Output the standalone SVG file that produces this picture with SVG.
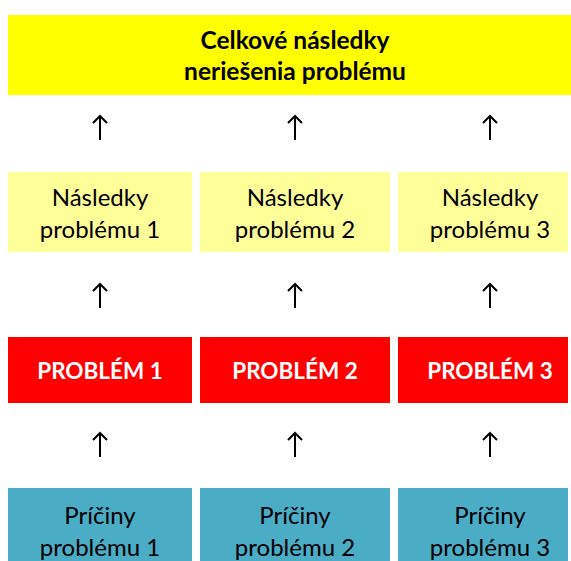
<svg xmlns="http://www.w3.org/2000/svg" width="571" height="561" viewBox="0 0 571 561">
<style>
.t{font-family:Lato,"Liberation Sans",sans-serif;font-size:24px;text-anchor:middle;fill:#000}
.b{font-weight:bold;font-size:24.5px}
.w{fill:#fff;font-size:22.5px}
.arr{fill:none;stroke:#000;stroke-width:2}
</style>
<rect width="571" height="561" fill="#fff"/>
<g id="celkove">
<rect x="8" y="15" width="563" height="80" fill="#ffff00"/>
<text class="t b" x="295" y="49">Celkové následky</text>
<text class="t b" x="295" y="80">neriešenia problému</text>
</g>
<g id="nasledky1">
<rect x="8" y="172" width="184" height="80" fill="#ffff99"/>
<text class="t" x="100" y="206">Následky</text>
<text class="t" x="100" y="238">problému 1</text>
</g>
<g id="nasledky2">
<rect x="200" y="172" width="190" height="80" fill="#ffff99"/>
<text class="t" x="295" y="206">Následky</text>
<text class="t" x="295" y="238">problému 2</text>
</g>
<g id="nasledky3">
<rect x="398" y="172" width="170" height="80" fill="#ffff99"/>
<text class="t" x="490" y="206">Následky</text>
<text class="t" x="490" y="238">problému 3</text>
</g>
<g id="problem1">
<rect x="8" y="337" width="184" height="66" fill="#ff0000"/>
<text class="t b w" x="100" y="379">PROBLÉM 1</text>
</g>
<g id="problem2">
<rect x="200" y="337" width="190" height="66" fill="#ff0000"/>
<text class="t b w" x="295" y="379">PROBLÉM 2</text>
</g>
<g id="problem3">
<rect x="398" y="337" width="170" height="66" fill="#ff0000"/>
<text class="t b w" x="490" y="379">PROBLÉM 3</text>
</g>
<g id="priciny1">
<rect x="8" y="488" width="184" height="73" fill="#4bacc6"/>
<text class="t" x="100" y="524">Príčiny</text>
<text class="t" x="100" y="556">problému 1</text>
</g>
<g id="priciny2">
<rect x="200" y="488" width="190" height="73" fill="#4bacc6"/>
<text class="t" x="295" y="524">Príčiny</text>
<text class="t" x="295" y="556">problému 2</text>
</g>
<g id="priciny3">
<rect x="398" y="488" width="170" height="73" fill="#4bacc6"/>
<text class="t" x="490" y="524">Príčiny</text>
<text class="t" x="490" y="556">problému 3</text>
</g>
<g id="connectors" class="arr">
<path d="M100 140V116M93 123L100 116L107 123"/>
<path d="M295 140V116M288 123L295 116L302 123"/>
<path d="M490 140V116M483 123L490 116L497 123"/>
<path d="M100 308V284M93 291L100 284L107 291"/>
<path d="M295 308V284M288 291L295 284L302 291"/>
<path d="M490 308V284M483 291L490 284L497 291"/>
<path d="M100 457V433M93 440L100 433L107 440"/>
<path d="M295 457V433M288 440L295 433L302 440"/>
<path d="M490 457V433M483 440L490 433L497 440"/>
</g>
</svg>
